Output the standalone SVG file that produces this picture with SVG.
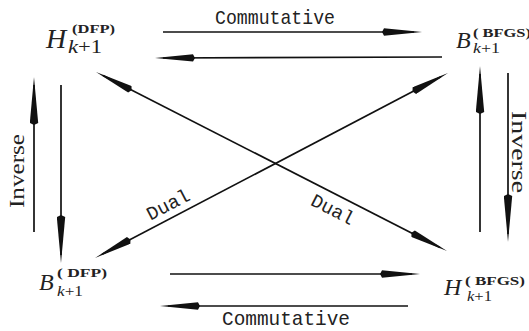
<svg xmlns="http://www.w3.org/2000/svg" width="529" height="331" viewBox="0 0 529 331">
<style>
.ln{stroke:#111;stroke-width:1.7;fill:none}
.h{marker-end:url(#ah)}
.v{marker-end:url(#av)}
.d{marker-end:url(#ah);marker-start:url(#ah)}
.lbl{font-family:"Liberation Mono","DejaVu Sans Mono",monospace;fill:#222}
.inv{font-family:"Liberation Serif","Times New Roman",serif;fill:#222}
.big{font-family:"Liberation Serif","Times New Roman",serif;font-style:italic;fill:#222}
.sup{font-family:"Liberation Serif","Times New Roman",serif;font-weight:bold;fill:#222}
.sub{font-family:"Liberation Serif","Times New Roman",serif;fill:#222}
.it{font-style:italic}
</style>
<defs>
<marker id="ah" markerUnits="userSpaceOnUse" viewBox="0 0 40 8" markerWidth="40" markerHeight="8" refX="32" refY="4" orient="auto-start-reverse">
<path d="M0,4 L2,0.3 L40,4 L2,7.7 Z" fill="#111"/>
</marker>
<marker id="av" markerUnits="userSpaceOnUse" viewBox="0 0 48 9" markerWidth="48" markerHeight="9" refX="40" refY="4.5" orient="auto-start-reverse">
<path d="M0,4.5 L2,0.3 L48,4.5 L2,8.7 Z" fill="#111"/>
</marker>
</defs>
<rect width="529" height="331" fill="#fff"/>
<g id="connectors">
<line class="ln h" x1="163" y1="32" x2="414" y2="32"/>
<line class="ln h" x1="442" y1="57" x2="163" y2="58"/>
<line class="ln h" x1="170" y1="274" x2="412" y2="274"/>
<line class="ln h" x1="408" y1="306" x2="168" y2="306"/>
<line class="ln v" x1="34" y1="232" x2="34" y2="85"/>
<line class="ln v" x1="61" y1="85" x2="61" y2="255"/>
<line class="ln v" x1="480" y1="232" x2="480" y2="74"/>
<line class="ln v" x1="508" y1="73" x2="508" y2="234"/>
<line class="ln d" x1="103.1" y1="75.6" x2="439.9" y2="247.4"/>
<line class="ln d" x1="102.1" y1="254.3" x2="440.9" y2="76.7"/>
<text class="lbl" x="215" y="24" font-size="21" textLength="120" lengthAdjust="spacingAndGlyphs">Commutative</text>
<text class="lbl" x="222" y="325" font-size="21" textLength="128" lengthAdjust="spacingAndGlyphs">Commutative</text>
<text class="inv" font-size="20" text-anchor="middle" transform="translate(24,171) rotate(-90)" textLength="74" lengthAdjust="spacingAndGlyphs">Inverse</text>
<text class="inv" font-size="20" text-anchor="middle" transform="translate(512,152) rotate(90)" textLength="82" lengthAdjust="spacingAndGlyphs">Inverse</text>
<text class="lbl" font-size="19" text-anchor="middle" transform="translate(171,210) rotate(-27.6)" textLength="46" lengthAdjust="spacingAndGlyphs">Dual</text>
<text class="lbl" font-size="19" text-anchor="middle" transform="translate(330,215) rotate(27)" textLength="46" lengthAdjust="spacingAndGlyphs">Dual</text>
</g>
<g id="H_DFP">
<text class="big" x="46" y="48" font-size="28">H</text>
<text class="sup" x="72" y="33" font-size="12" textLength="43" lengthAdjust="spacingAndGlyphs">(DFP)</text>
<text class="sub" x="68" y="53" font-size="19" textLength="34" lengthAdjust="spacingAndGlyphs"><tspan class="it">k</tspan>+1</text>
</g>
<g id="B_BFGS">
<text class="big" x="456" y="48" font-size="24">B</text>
<text class="sup" x="473" y="37" font-size="12" textLength="58" lengthAdjust="spacingAndGlyphs">( BFGS)</text>
<text class="sub" x="473" y="53" font-size="15" textLength="27" lengthAdjust="spacingAndGlyphs"><tspan class="it">k</tspan>+1</text>
</g>
<g id="B_DFP">
<text class="big" x="39" y="290" font-size="24">B</text>
<text class="sup" x="57" y="277" font-size="12" textLength="50" lengthAdjust="spacingAndGlyphs">( DFP)</text>
<text class="sub" x="57" y="296" font-size="15" textLength="26" lengthAdjust="spacingAndGlyphs"><tspan class="it">k</tspan>+1</text>
</g>
<g id="H_BFGS">
<text class="big" x="444" y="295" font-size="24">H</text>
<text class="sup" x="465" y="285" font-size="12" textLength="60" lengthAdjust="spacingAndGlyphs">( BFGS)</text>
<text class="sub" x="467" y="301" font-size="15" textLength="25" lengthAdjust="spacingAndGlyphs"><tspan class="it">k</tspan>+1</text>
</g>
</svg>
